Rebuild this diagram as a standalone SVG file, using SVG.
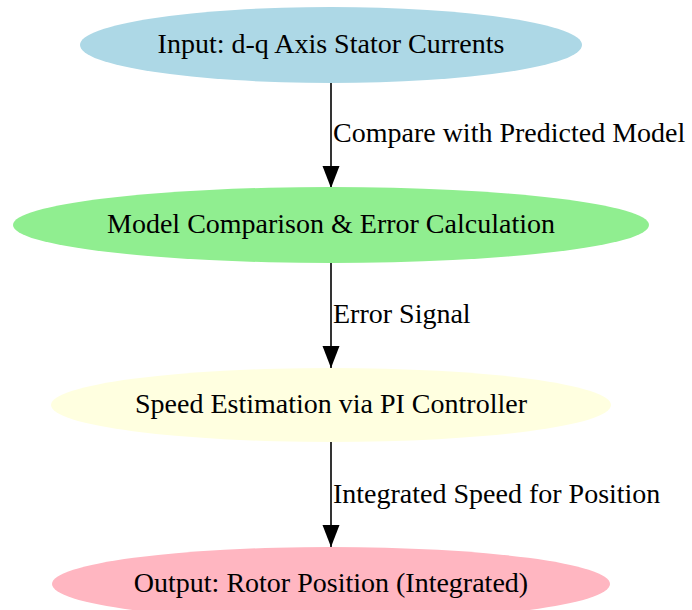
<svg xmlns="http://www.w3.org/2000/svg" width="692" height="610" viewBox="0 0 692 610" font-family="'Liberation Serif', 'Times New Roman', Tinos, 'DejaVu Serif', serif">
  <style>
    text { font-family: 'Liberation Serif', 'Times New Roman', Tinos, 'DejaVu Serif', serif; font-size: 28px; fill: #000; }
    .node text { text-anchor: middle; }
    .edge line { stroke: #000; stroke-width: 1.6; }
    .edge text { text-anchor: start; }
  </style>
  <defs>
    <marker id="arrowhead" markerUnits="userSpaceOnUse" markerWidth="22" markerHeight="18" refX="22" refY="8.5" orient="auto">
      <path d="M0,0 L22,8.5 L0,17 Z" fill="#000"/>
    </marker>
  </defs>
  <rect width="692" height="610" fill="#fff"/>

  <g id="connectors" class="edge">
    <line x1="331" y1="83" x2="331" y2="188" marker-end="url(#arrowhead)"/>
    <text x="333" y="142">Compare with Predicted Model</text>
    <line x1="331" y1="263" x2="331" y2="368" marker-end="url(#arrowhead)"/>
    <text x="333" y="323">Error Signal</text>
    <line x1="331" y1="442" x2="331" y2="547" marker-end="url(#arrowhead)"/>
    <text x="333" y="503">Integrated Speed for Position</text>
  </g>

  <g id="input" class="node">
    <ellipse cx="331" cy="45" rx="251" ry="38" fill="#add8e6"/>
    <text x="331" y="53">Input: d-q Axis Stator Currents</text>
  </g>
  <g id="comparison" class="node">
    <ellipse cx="331" cy="225" rx="318" ry="38" fill="#90ee90"/>
    <text x="331" y="233">Model Comparison &amp; Error Calculation</text>
  </g>
  <g id="speed" class="node">
    <ellipse cx="331" cy="405" rx="280" ry="37" fill="#ffffe0"/>
    <text x="331" y="413">Speed Estimation via PI Controller</text>
  </g>
  <g id="output" class="node">
    <ellipse cx="331" cy="584" rx="279" ry="37" fill="#ffb6c1"/>
    <text x="331" y="592">Output: Rotor Position (Integrated)</text>
  </g>
</svg>
